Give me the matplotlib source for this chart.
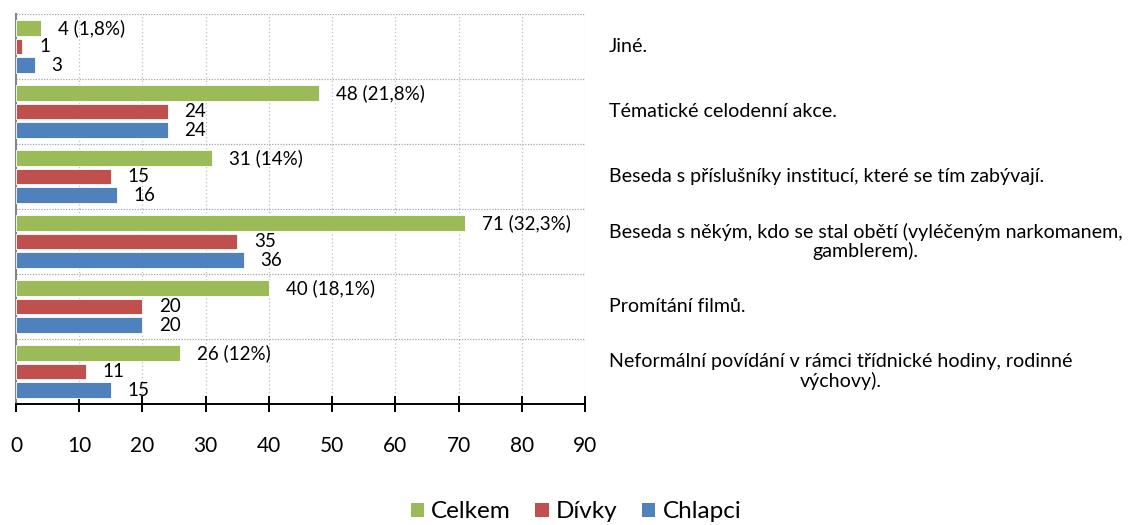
import matplotlib
matplotlib.use("Agg")
import matplotlib.pyplot as plt
import matplotlib.transforms as mtransforms
import numpy as np
from matplotlib.patches import Patch

categories = [
    "Jiné.",
    "Tématické celodenní akce.",
    "Beseda s příslušníky institucí, které se tím zabývají.",
    "Beseda s někým, kdo se stal obětí (vyléčeným narkomanem,\ngamblerem).",
    "Promítání filmů.",
    "Neformální povídání v rámci třídnické hodiny, rodinné\nvýchovy).",
]
celkem = [4, 48, 31, 71, 40, 26]
celkem_labels = ["4 (1,8%)", "48 (21,8%)", "31 (14%)", "71 (32,3%)", "40 (18,1%)", "26 (12%)"]
divky = [1, 24, 15, 35, 20, 11]
chlapci = [3, 24, 16, 36, 20, 15]
x_ticks = [0, 10, 20, 30, 40, 50, 60, 70, 80, 90]

series_names = ["Celkem", "Dívky", "Chlapci"]
colors = ["#9BBB59", "#C0504D", "#4F81BD"]

plt.rcParams['font.family'] = ['Lato', 'DejaVu Sans']

fig = plt.figure(figsize=(11.3, 5.25), dpi=100)
W, H = 1130, 525
ax = fig.add_axes([16 / W, 1 - 404 / H, (585 - 16) / W, (404 - 14) / H])

n = len(categories)
ypos = np.arange(n)[::-1]  # first category at top
bh = 0.235
off = 0.285

series = [celkem, divky, chlapci]
offsets = [off, 0, -off]
for vals, col, o, name in zip(series, colors, offsets, series_names):
    bars = ax.barh(ypos + o, vals, height=bh, color=col, edgecolor="white",
                   linewidth=0.6, label=name, zorder=3)
    labs = celkem_labels if name == "Celkem" else [str(v) for v in vals]
    for b, lab in zip(bars, labs):
        ax.annotate(lab, (b.get_width(), b.get_y() + b.get_height() / 2),
                    xytext=(12, 0), textcoords="offset points",
                    ha="left", va="center", fontsize=13.5, color="black", zorder=4)

ax.set_xlim(0, 90)
ax.set_ylim(-0.5, n - 0.5)
ax.set_xticks(x_ticks)
ax.set_xticklabels([str(t) for t in x_ticks], fontsize=15)
ax.tick_params(axis="x", direction="inout", length=12, width=1.4, pad=17, colors="black")
ax.set_yticks([])
ax.tick_params(axis="y", which="both", length=0)

# gridlines
for x in x_ticks[1:]:
    ax.axvline(x, color="#BFBFBF", linestyle=(0, (1, 2)), linewidth=0.9, zorder=1)
for yy in np.arange(n) + 0.5:
    ax.axhline(yy, color="#A6A6A6", linestyle=(0, (1, 1.2)), linewidth=0.9, zorder=1)

for s in ["top", "right"]:
    ax.spines[s].set_visible(False)
ax.spines["left"].set_color("#868686")
ax.spines["left"].set_linewidth(1.5)
ax.spines["bottom"].set_color("black")
ax.spines["bottom"].set_linewidth(1.4)

# category labels on the right side
trans = mtransforms.blended_transform_factory(fig.transFigure, ax.transData)
for y, cat in zip(ypos, categories):
    ax.text(609 / W, y, cat, transform=trans, fontsize=14.1,
            ha="left", va="center", multialignment="center",
            linespacing=1.12, clip_on=False)

handles = [Patch(facecolor=c, edgecolor="none") for c in colors]
fig.legend(handles, series_names, loc="center", bbox_to_anchor=(576 / W, 1 - 512 / H),
           ncol=3, frameon=False, fontsize=17.5, handlelength=0.55, handleheight=0.55,
           handletextpad=0.3, columnspacing=1.0, borderpad=0)

fig.savefig("out.png", dpi=100)
